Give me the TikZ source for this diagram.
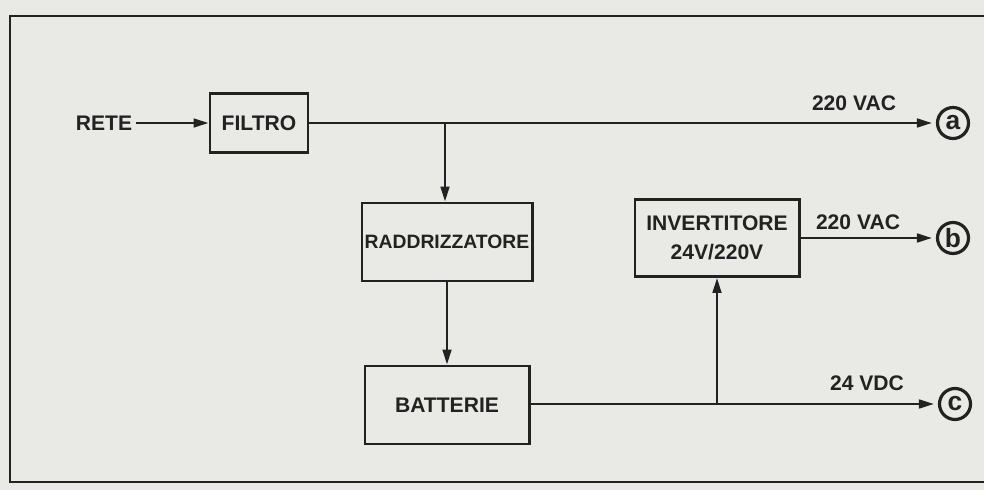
\documentclass[tikz,border=0pt]{standalone}
\usepackage{fontspec}
\setmainfont{Liberation Sans}
\usepackage{tikz}
\usetikzlibrary{arrows.meta}
\usetikzlibrary{positioning}

\definecolor{carta}{RGB}{233,233,229}
\definecolor{inchiostro}{RGB}{34,34,34}

\tikzset{
  blocco/.style={draw=inchiostro,line width=1.7pt,inner sep=0pt,align=center,
    text=inchiostro,font=\fontsize{12}{16.5}\selectfont\bfseries},
  etichetta/.style={inner sep=2pt,text=inchiostro,font=\fontsize{12}{13}\selectfont\bfseries},
  uscita/.style={circle,draw=inchiostro,line width=1.8pt,inner sep=0pt,minimum size=6.2mm,
    text=inchiostro,font=\fontsize{15}{15}\selectfont\bfseries},
  filo/.style={draw=inchiostro,line width=1.3pt,-{Triangle[length=8.5pt,width=5pt]}},
  cornice/.style={draw=inchiostro,line width=1.2pt}
}

\begin{document}
\begin{tikzpicture}[x=0.2mm,y=-0.2mm]
      % Carta
      \fill[carta] (0,0) rectangle (984,490);
      \useasboundingbox (0,0) rectangle (984,490);

      % Cornice
      \draw[cornice] (984,16) -- (10,16) -- (10,482) -- (984,482);

      % Rete
      \node[etichetta] (rete) at (104,123) {RETE};

      % Filtro
      \node[blocco,minimum width=19.6mm,minimum height=11.8mm] (filtro) at (259,123) {FILTRO};
      \draw[filo] (rete) -- (filtro);

      % Uscita a
      \node[uscita] (ua) at (953,123) {a};
      \node[etichetta] (la) at (854,103) {220 VAC};
      \draw[filo,shorten >=0.8mm] (filtro) -- (ua);
      \coordinate (j1) at (445,123);

      % Raddrizzatore
      \node[blocco,minimum width=34mm,minimum height=15.6mm,font=\fontsize{11}{13}\selectfont\bfseries]
        (raddr) at (447,242) {RADDRIZZATORE};
      \draw[filo] (j1) -- (j1 |- raddr.north);

      % Batterie
      \node[blocco,minimum width=32.8mm,minimum height=15.6mm] (batt) at (447,405) {BATTERIE};
      \draw[filo] (raddr) -- (batt);

      % Uscita c
      \node[uscita] (uc) at (955,404) {c};
      \node[etichetta] (lc) at (867,383) {24 VDC};
      \draw[filo,shorten >=0.8mm] (batt.east |- uc) -- (uc);
      \coordinate (j2) at (717,404);

      % Invertitore
      \node[blocco,minimum width=32.8mm,minimum height=15.4mm] (inv) at (717,238) {INVERTITORE\\24V/220V};
      \draw[filo] (j2) -- (inv);

      % Uscita b
      \node[uscita] (ub) at (953,238) {b};
      \node[etichetta] (lb) at (858,222) {220 VAC};
      \draw[filo,shorten >=0.8mm] (inv) -- (ub);
    \end{tikzpicture}
\end{document}
